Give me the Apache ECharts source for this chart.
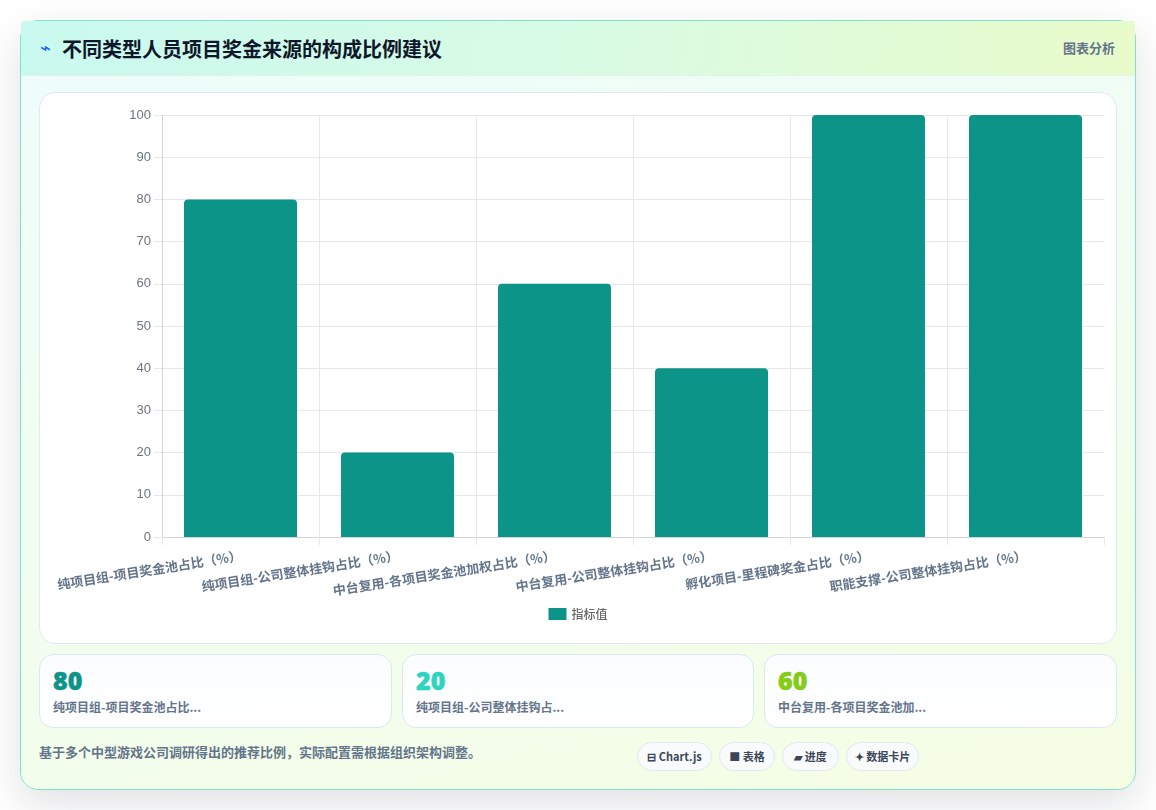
<!DOCTYPE html>
<html lang="zh-CN">
<head>
<meta charset="utf-8">
<title>不同类型人员项目奖金来源的构成比例建议</title>
<script src="https://cdn.jsdelivr.net/npm/echarts@6/dist/echarts.min.js"></script>
<style>
  * { box-sizing: border-box; }
  html, body { margin: 0; width: 1156px; height: 810px; overflow: hidden; background: #fff; }
  body { font-family: "Noto Sans CJK SC", "Noto Sans", sans-serif; position: relative; }
  .panel {
    position: absolute; left: 20px; top: 20px; width: 1116px; height: 770px;
    border: 1px solid #7fe3d0; border-radius: 18px;
    background: linear-gradient(165deg, #eefdfb 0%, #f1fdf3 45%, #f5fde3 100%);
    box-shadow: 0 14px 40px rgba(15, 23, 42, .13);
  }
  .head {
    position: absolute; left: 0; top: 0; width: 1114px; height: 55px;
    background: linear-gradient(100deg, #c9f9ef 0%, #d8fbe4 50%, #e9fbca 100%);
    border-bottom: 1px solid #e2f3ea;
    border-radius: 4px 0 0 0;
  }
  .bolt { position: absolute; left: 19px; top: 17px; font: 700 18px/20px "DejaVu Sans", sans-serif; color: #2563eb; }
  .title { position: absolute; left: 41px; top: 13px; font-size: 20px; line-height: 30px; font-weight: 700; color: #0f172a; white-space: nowrap; }
  .tag { position: absolute; right: 20px; top: 17px; font-size: 13px; line-height: 20px; font-weight: 700; color: #64748b; }
  #chartBox {
    position: absolute; left: 18px; top: 71px; width: 1078px; height: 552px;
    background: #fff; border: 1px solid #e2e8f0; border-radius: 16px; overflow: hidden;
  }
  #chart { width: 1076px; height: 550px; }
  .stat {
    position: absolute; top: 633px; height: 74px; padding: 10px 13px;
    background: linear-gradient(180deg, #fafcff 0%, #ffffff 100%);
    border: 1px solid #dbe8f3; border-radius: 14px;
  }
  .stat b { display: block; font: 800 25px/30px "Open Sans", "Noto Sans", sans-serif; -webkit-text-stroke: .5px currentColor; }
  .stat span { display: block; margin-top: 3px; font-size: 12px; line-height: 18px; font-weight: 700; color: #64748b; }
  .note { position: absolute; left: 18px; top: 721px; font-size: 13px; line-height: 20px; font-weight: 700; color: #64748b; white-space: nowrap; }
  .pill {
    position: absolute; top: 721px; height: 29px; border: 1px solid #e2e8f0; border-radius: 15px;
    background: #f8fafc; font-size: 11px; line-height: 27px; font-weight: 700; color: #3b4759;
    text-align: center; white-space: nowrap;
  }
</style>
</head>
<body>
<div class="panel">
  <div class="head">
    <span class="bolt">⌁</span>
    <span class="title">不同类型人员项目奖金来源的构成比例建议</span>
    <span class="tag">图表分析</span>
  </div>
  <div id="chartBox"><div id="chart"></div></div>
  <div id="stats"></div>
  <div class="note">基于多个中型游戏公司调研得出的推荐比例，实际配置需根据组织架构调整。</div>
  <div id="pills"></div>
</div>
<script>
// Bonus-source share for each staff type, in percent.
const categories = [
  '纯项目组-项目奖金池占比（%）',
  '纯项目组-公司整体挂钩占比（%）',
  '中台复用-各项目奖金池加权占比（%）',
  '中台复用-公司整体挂钩占比（%）',
  '孵化项目-里程碑奖金占比（%）',
  '职能支撑-公司整体挂钩占比（%）'
];
const shares = [80, 20, 60, 40, 100, 100];
const seriesName = '指标值';
const yTicks = { min: 0, max: 100, interval: 10 };

// Summary cards under the chart.
const statLabels = ['纯项目组-项目奖金池占比...', '纯项目组-公司整体挂钩占...', '中台复用-各项目奖金池加...'];
const statColors = ['#0d9488', '#2dd4bf', '#84cc16'];
const statLefts = [18, 381, 743];
const statWidths = [353, 352, 353];

// Feature pills in the footer row.
const pillTexts = ['⊟ Chart.js', '■ 表格', '▰ 进度', '✦ 数据卡片'];
const pillLefts = [616, 698, 761, 825];
const pillWidths = [75, 56, 57, 73];

document.getElementById('stats').innerHTML = statLabels.map((label, i) =>
  `<div class="stat" style="left:${statLefts[i]}px;width:${statWidths[i]}px"><b style="color:${statColors[i]}">${shares[i]}</b><span>${label}</span></div>`
).join('');
document.getElementById('pills').innerHTML = pillTexts.map((text, i) =>
  `<div class="pill" style="left:${pillLefts[i]}px;width:${pillWidths[i]}px">${text}</div>`
).join('');

const chart = echarts.init(document.getElementById('chart'), null, { renderer: 'canvas' });
chart.setOption({
  animation: false,
  textStyle: { fontFamily: '"Noto Sans CJK SC", sans-serif' },
  legend: {
    data: [seriesName], top: 510, left: 'center',
    itemWidth: 18, itemHeight: 12, itemGap: 6, icon: 'rect',
    textStyle: { color: '#666', fontSize: 12, fontWeight: 500 }
  },
  grid: { left: 122, top: 22, width: 942, height: 422, containLabel: false },
  xAxis: {
    type: 'category', data: categories, boundaryGap: true,
    axisLine: { lineStyle: { color: '#d1d5db' } },
    axisTick: { show: true, length: 8, alignWithLabel: false, lineStyle: { color: '#e5e7eb' } },
    splitLine: { show: true, showMaxLine: false, lineStyle: { color: '#e5e7eb' } },
    axisLabel: {
      interval: 0, rotate: 9, margin: 12, align: 'right', verticalAlign: 'top',
      color: '#64748b', fontSize: 13, fontWeight: 700,
      fontFamily: '"Noto Sans CJK SC", sans-serif', hideOverlap: false
    }
  },
  yAxis: {
    type: 'value', min: yTicks.min, max: yTicks.max, interval: yTicks.interval,
    axisLine: { show: true, lineStyle: { color: '#d1d5db' } },
    axisTick: { show: true, length: 8, lineStyle: { color: '#e5e7eb' } },
    splitLine: { show: true, lineStyle: { color: '#e5e7eb' } },
    axisLabel: { margin: 11, color: '#6b7280', fontSize: 13, fontFamily: '"Liberation Sans", Arial, sans-serif' }
  },
  series: [{
    name: seriesName, type: 'bar', data: shares, barWidth: 113,
    itemStyle: { color: '#0d9488', borderRadius: [4, 4, 0, 0] }
  }]
});
</script>
</body>
</html>
